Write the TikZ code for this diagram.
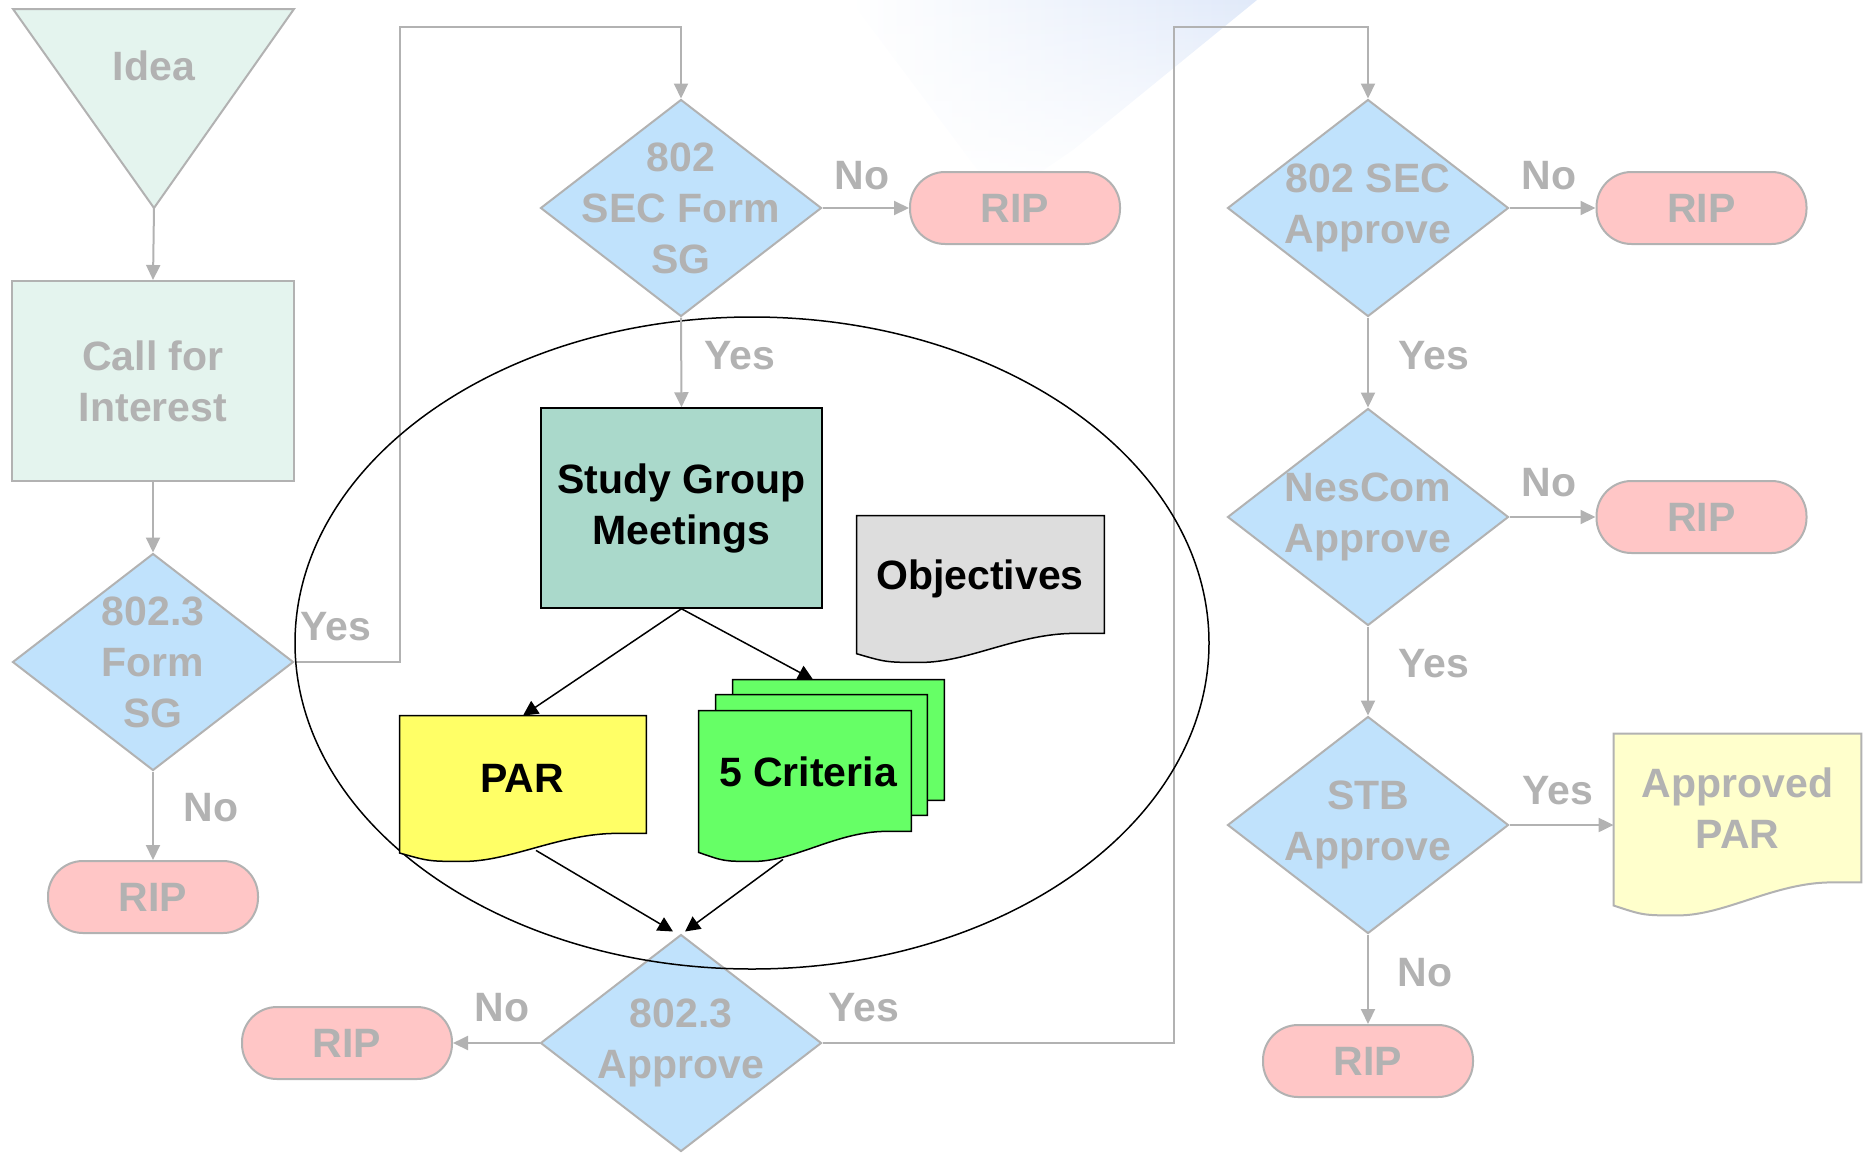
\documentclass[tikz,border=0pt]{standalone}
\usepackage{fontspec}
\setmainfont{Liberation Sans}
\usetikzlibrary{shapes.geometric,arrows.meta,calc,fadings}

\definecolor{flowgrey}{HTML}{B2B2B2}
\definecolor{mintfill}{HTML}{E4F4EE}
\definecolor{decfill}{HTML}{C0E2FC}
\definecolor{ripfill}{HTML}{FFC6C6}
\definecolor{aparfill}{HTML}{FFFFCC}
\definecolor{studyfill}{HTML}{AAD9CB}
\definecolor{parfill}{HTML}{FFFF66}
\definecolor{critfill}{HTML}{66FF66}
\definecolor{objfill}{HTML}{DDDDDD}
\definecolor{bandblue}{HTML}{E0E9F9}

\tikzset{
  greytext/.style={text=flowgrey,font=\fontsize{20.5}{25.5}\selectfont\bfseries,align=center},
  blacktext/.style={text=black,font=\fontsize{20.5}{25.5}\selectfont\bfseries,align=center},
  decision/.style={diamond,draw=flowgrey,fill=decfill,line width=1pt,
    minimum width=140.5pt,minimum height=108.5pt,inner sep=0pt},
  process/.style={rectangle,draw=flowgrey,fill=mintfill,line width=1pt,
    minimum width=141pt,minimum height=100pt,greytext},
  rip/.style={rectangle,rounded corners=17.5pt,draw=flowgrey,fill=ripfill,line width=1pt,
    minimum width=105pt,minimum height=36pt,inner sep=0pt,greytext},
  studybox/.style={rectangle,draw=black,fill=studyfill,line width=0.75pt,
    minimum width=140.5pt,minimum height=100pt,blacktext},
  docbox/.style={rectangle,inner sep=0pt},
  flow/.style={draw=flowgrey,line width=1pt,-{Triangle[length=7.5pt,width=7pt]}},
  link/.style={draw=black,line width=0.75pt,-{Triangle[length=7.5pt,width=7.5pt]}}
}

% document symbol: node name, style, depth of the wave
\newcommand{\docwave}[3]{
  \draw[#2] ($(#1.south west)+(0,0.7*#3)$) -- (#1.north west) -- (#1.north east)
    -- (#1.south east) -- ($(#1.south east)!0.12!(#1.south west)$)
    .. controls ($(#1.south east)!0.35!(#1.south west)$)
       and ($(#1.south east)!0.55!(#1.south west)+(0,#3)$)
    .. ($(#1.south east)!0.74!(#1.south west)+(0,#3)$)
    .. controls ($(#1.south east)!0.88!(#1.south west)+(0,#3)$)
    .. ($(#1.south west)+(0,0.7*#3)$) -- cycle;
}

\begin{document}
\begin{tikzpicture}[x=0.5pt,y=-0.5pt]
  \useasboundingbox (0,0) rectangle (1868,1152);

  % background band
  \shade[left color=white,right color=bandblue,path fading=south]
    (850,0) -- (1257,0) -- (1073,150) -- (1000,200) -- cycle;

  % idea and call for interest
  \draw[draw=flowgrey,fill=mintfill,line width=1pt] (13,9) -- (294,9) -- (154,208) -- cycle;
  \coordinate (ideatip) at (154,208);
  \node[greytext] (idea) at (154,66) {Idea};
  \node[process] (call) at (153,381) {Call for\\Interest};

  % decisions
  \node[decision] (formsg) at (153,662) {};
  \node[decision] (secform) at (681,208) {};
  \node[decision] (approve3) at (681,1043) {};
  \node[decision] (secapp) at (1368,208) {};
  \node[decision] (nescom) at (1368,517) {};
  \node[decision] (stb) at (1368,825) {};
  \node[greytext] (formsgtxt) at (formsg) {802.3\\Form\\SG};
  \node[greytext] (secformtxt) at (secform) {802\\SEC Form\\SG};
  \node[greytext] (approve3txt) at (approve3) {802.3\\Approve};
  \node[greytext] (secapptxt) at (secapp) {802 SEC\\Approve};
  \node[greytext] (nescomtxt) at (nescom) {NesCom\\Approve};
  \node[greytext] (stbtxt) at (stb) {STB\\Approve};

  % dead ends
  \foreach \nm/\x/\y in {ripform/153/897, ripsec/1015/208, ripthree/347/1043,
      ripapp/1701.5/208, ripnes/1701.5/517, ripstb/1368/1061}
    \node[rip] (\nm) at (\x,\y) {RIP};

  % approved par
  \node[docbox,minimum width=123.5pt,minimum height=74pt] (apar) at (1737.5,808) {};
  \docwave{apar}{draw=flowgrey,fill=aparfill,line width=1pt}{33}
  \node[greytext] (apartxt) at (apar) {Approved\\PAR};

  \coordinate (loopA) at (400,27);
  \coordinate (loopB) at (1174,27);

  \draw[flow] (ideatip) -- (call.north);
  \draw[flow] (call.south) -- (formsg.north);
  \draw[flow] (formsg.east) -| (loopA) -| (secform.north);
  \draw[flow] (formsg.south) -- (ripform.north);
  \draw[flow] (secform.east) -- (ripsec.west);
  \draw[flow] (approve3.west) -- (ripthree.east);
  \draw[flow] (approve3.east) -| (loopB) -| (secapp.north);
  \draw[flow] (secapp.east) -- (ripapp.west);
  \draw[flow] (secapp.south) -- (nescom.north);
  \draw[flow] (nescom.east) -- (ripnes.west);
  \draw[flow] (nescom.south) -- (stb.north);
  \draw[flow] (stb.east) -- (stb.east -| apar.west);
  \draw[flow] (stb.south) -- (ripstb.north);

  \foreach \nm/\x/\y/\txt in {yesform/336/627/Yes, noform/211/808/No,
      nosec/862/176/No, yessec/740/356/Yes, nothree/502/1008/No, yesthree/864/1008/Yes,
      nosecapp/1549/176/No, yessecapp/1434/356/Yes, nonescom/1549/483/No,
      yesnescom/1434/664/Yes, yesstb/1558/791/Yes, nostb/1425/973/No}
    \node[greytext] (\nm) at (\x,\y) {\txt};

  % study group
  \draw[black,line width=0.75pt] (752,643) ellipse [x radius=228.5pt,y radius=163pt];
  \node[studybox] (study) at (681.5,508) {Study Group\\Meetings};
  \draw[flow] (secform.south) -- (study.north);

  \node[docbox,minimum width=123.5pt,minimum height=58.5pt] (obj) at (980.5,574.5) {};
  \docwave{obj}{draw=black,fill=objfill,line width=0.75pt}{29}
  \node[blacktext] (objtxt) at (980,579) {Objectives};

  \node[docbox,minimum width=123pt,minimum height=58.5pt] (par) at (523,774.5) {};
  \docwave{par}{draw=black,fill=parfill,line width=0.75pt}{28}
  \node[blacktext] (partxt) at (522,778) {PAR};

  \node[docbox,minimum width=105.5pt,minimum height=60pt] (critb) at (838.5,740) {};
  \node[docbox,minimum width=105.5pt,minimum height=60pt] (crita) at (821.5,755) {};
  \node[docbox,minimum width=106pt,minimum height=60pt] (crit) at (805,771) {};
  \foreach \nm in {critb,crita,crit}
    \docwave{\nm}{draw=black,fill=critfill,line width=0.75pt}{30}
  \node[blacktext] (crittxt) at (808,772) {5 Criteria};

  \draw[link] (study.south) -- (par.north);
  \draw[link] (study.south) -- ($(critb.north west)!0.38!(critb.north east)$);
  \draw[link] ($(par.south)+(13,17)$) -- ($(approve3.north)+(-8,-2)$);
  \draw[link] ($(crit.south)+(-22,28)$) -- ($(approve3.north)+(4,-2)$);
\end{tikzpicture}
\end{document}
